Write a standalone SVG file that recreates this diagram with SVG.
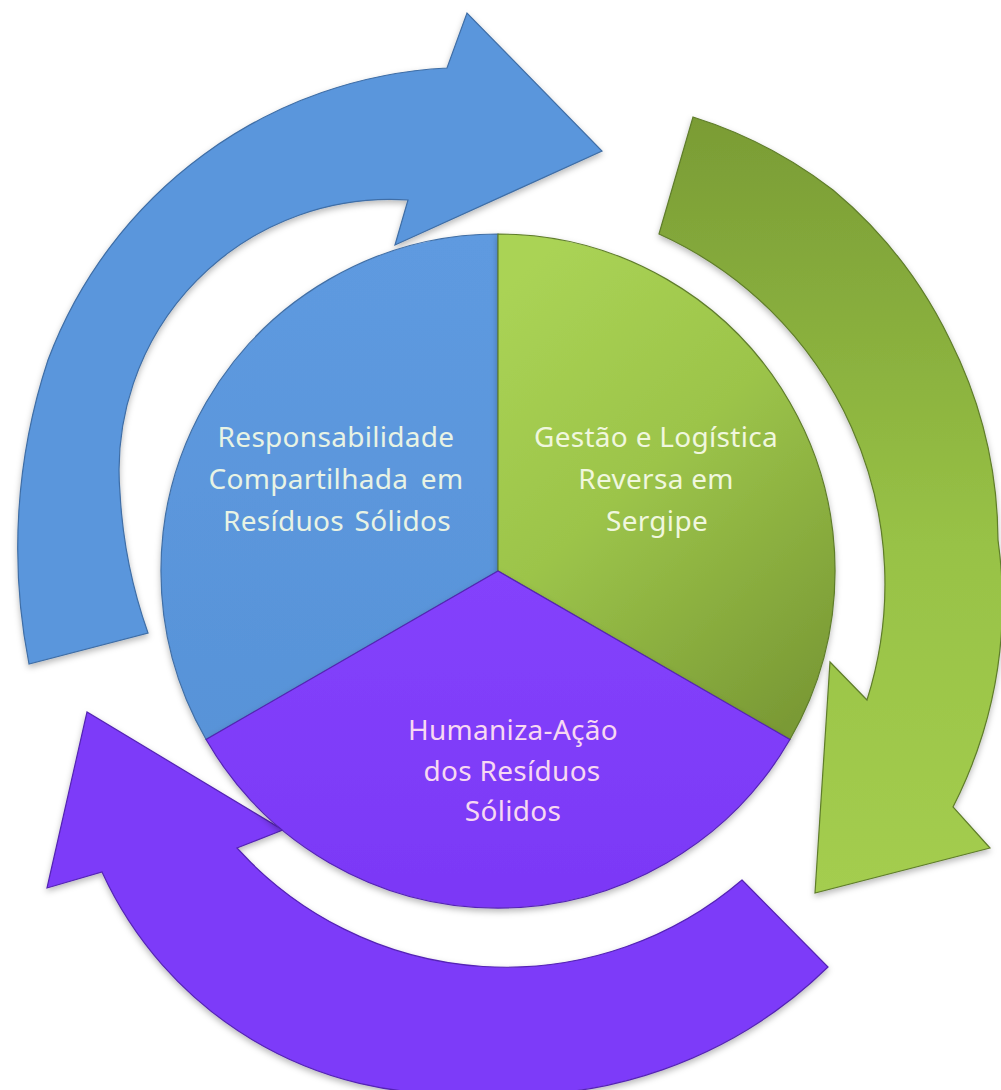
<svg xmlns="http://www.w3.org/2000/svg" width="1001" height="1090" viewBox="0 0 1001 1090">
<defs>
<style>
.lbl{font-family:"Noto Sans","Open Sans","DejaVu Sans",sans-serif;font-size:28px;letter-spacing:0.3px;text-anchor:middle}
.tb{fill:#e8f3e4}
.tg{fill:#f0f7de}
.tp{fill:#f7d8f2}
.ab{fill:#5a96dc;stroke:#3f6ea6;stroke-width:1.2}
.ag{fill:url(#gArrow);stroke:#5f7d2a;stroke-width:1.2}
.ap{fill:#7d3bf9;stroke:#5424b4;stroke-width:1.2}
.sb{fill:url(#gBlue);stroke:#416fa6;stroke-width:1.2}
.sg{fill:url(#gGreen);stroke:#5f7d2a;stroke-width:1.2}
.sp{fill:url(#gPurple);stroke:#5424b4;stroke-width:1.2}
</style>
<linearGradient id="gArrow" x1="0" y1="0" x2="0" y2="1">
<stop offset="0" stop-color="#7a9c35"/>
<stop offset="0.55" stop-color="#98c246"/>
<stop offset="1" stop-color="#a4cd4f"/>
</linearGradient>
<linearGradient id="gGreen" x1="0.2" y1="0" x2="0.8" y2="1">
<stop offset="0" stop-color="#aad355"/>
<stop offset="0.45" stop-color="#9cc44a"/>
<stop offset="1" stop-color="#7a9a35"/>
</linearGradient>
<linearGradient id="gBlue" x1="0" y1="0" x2="0" y2="1">
<stop offset="0" stop-color="#5e9ae0"/>
<stop offset="1" stop-color="#5893d8"/>
</linearGradient>
<linearGradient id="gPurple" x1="0" y1="0" x2="0" y2="1">
<stop offset="0" stop-color="#8442fc"/>
<stop offset="1" stop-color="#7b38f6"/>
</linearGradient>
<filter id="sh" x="-10%" y="-10%" width="120%" height="125%">
<feDropShadow dx="0" dy="3" stdDeviation="3" flood-color="#000" flood-opacity="0.28"/>
</filter>
</defs>
<rect width="1001" height="1090" fill="#ffffff"/>
<g id="connectors" filter="url(#sh)">
<path id="arrow-blue" class="ab" d="M29,664 A600,600 0 0 1 48,360 A451,451 0 0 1 447,68 L467,13 L602,151 L395,245 L408,200 A271,271 0 0 0 120,493 A500,500 0 0 0 148,633 Z"/>
<path id="arrow-green" class="ag" d="M693,117 A450,450 0 0 1 833,190 A450,450 0 0 1 950,340 A450,450 0 0 1 998,540 A450,450 0 0 1 983,733 A450,450 0 0 1 953,807 L990,848 L815,893 L830,662 L867,700 A384,384 0 0 0 659,234 Z"/>
<path id="arrow-purple" class="ap" d="M742,880 L828,967 A450,450 0 0 1 470,1093 A380,380 0 0 1 102,872 L47,888 L87,712 L283,830 L237,848 A363,363 0 0 0 742,880 Z"/>
</g>
<g id="node-blue" filter="url(#sh)">
<path class="sb" d="M498,571 L498,234 A337,337 0 0 0 206.1,739.5 Z"/>
</g>
<g id="node-green" filter="url(#sh)">
<path class="sg" d="M498,571 L498,234 A337,337 0 0 1 789.9,739.5 Z"/>
</g>
<g id="node-purple" filter="url(#sh)">
<path class="sp" d="M498,571 L206.1,739.5 A337,337 0 0 0 789.9,739.5 Z"/>
</g>
<g id="labels">
<text class="lbl tb"><tspan x="336" y="447">Responsabilidade</tspan><tspan x="336" y="489" word-spacing="5">Compartilhada em</tspan><tspan x="337" y="531" word-spacing="3">Resíduos Sólidos</tspan></text>
<text class="lbl tg"><tspan x="656" y="447">Gestão e Logística</tspan><tspan x="656" y="489">Reversa em</tspan><tspan x="657" y="531">Sergipe</tspan></text>
<text class="lbl tp"><tspan x="513" y="740">Humaniza-Ação</tspan><tspan x="512" y="781">dos Resíduos</tspan><tspan x="513" y="821">Sólidos</tspan></text>
</g>
</svg>
